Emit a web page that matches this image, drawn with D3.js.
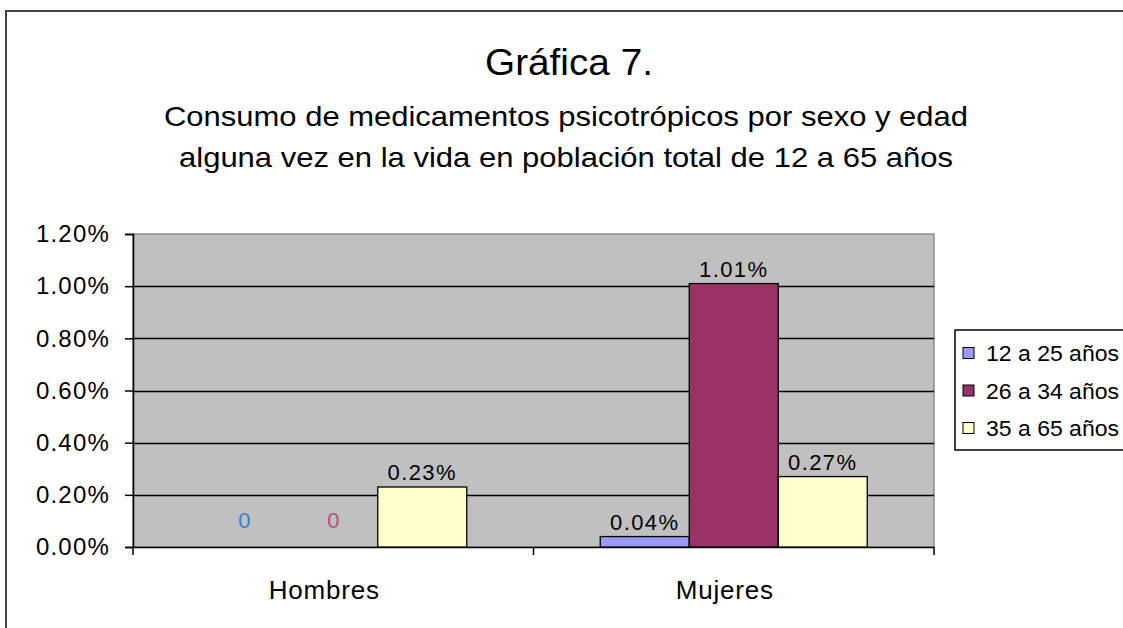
<!DOCTYPE html>
<html><head><meta charset="utf-8">
<script src="https://cdn.jsdelivr.net/npm/d3@7"></script>
<style>body{margin:0;background:#fff;}svg{display:block;font-family:"Liberation Sans",Arial,sans-serif;}</style>
</head><body>
<svg id="c" width="1123" height="628"></svg>
<script>
const categories = ["Hombres", "Mujeres"];
const series = ["12 a 25 años", "26 a 34 años", "35 a 65 años"];
const values = {
  "12 a 25 años": [0, 0.04],
  "26 a 34 años": [0, 1.01],
  "35 a 65 años": [0.23, 0.27]
};
const colors = ["#9999FF", "#993366", "#FFFFCC"];
const zeroLabelColors = ["#3A7BD5", "#B0507A"];
const yTicks = [0, 0.2, 0.4, 0.6, 0.8, 1.0, 1.2];
const titleText = "Gráfica 7.";
const subtitleLines = ["Consumo de medicamentos psicotrópicos por sexo y edad", "alguna vez en la vida en población total de 12 a 65 años"];
const subtitleWidths = [804, 774];

const svg = d3.select("#c");
// chart border
svg.append("rect").attr("x", 6).attr("y", 11).attr("width", 1140).attr("height", 640)
  .attr("fill", "#fff").attr("stroke", "#444").attr("stroke-width", 2);

const L = 133, R = 934, T = 234, B = 547;
const y = d3.scaleLinear().domain([0, 1.2]).range([B, T]);
const x0 = d3.scaleBand().domain(categories).range([L, R]);
const x1 = d3.scaleBand().domain(series).range([0, x0.bandwidth()]).paddingInner(0).paddingOuter(0.75);

// plot area
svg.append("rect").attr("x", L).attr("y", T).attr("width", R - L).attr("height", B - T)
  .attr("fill", "#C0C0C0").attr("stroke", "#8c8c8c").attr("stroke-width", 1.5);
// gridlines
svg.append("g").selectAll("line").data(yTicks.filter(t => t > 0 && t < 1.2)).join("line")
  .attr("x1", L).attr("x2", R).attr("y1", d => Math.round(y(d)) + 0.5).attr("y2", d => Math.round(y(d)) + 0.5)
  .attr("stroke", "#000").attr("stroke-width", 1.3);

// y axis
const yAxis = d3.axisLeft(y).tickValues(yTicks).tickFormat(d => d.toFixed(2) + "%").tickSize(8).tickPadding(15);
const gy = svg.append("g").attr("transform", `translate(${L},0)`).call(yAxis);
gy.select(".domain").attr("stroke", "#000").attr("stroke-width", 1.5);
gy.selectAll(".tick line").attr("stroke", "#000").attr("stroke-width", 1.5);
gy.selectAll(".tick text").attr("font-size", 24).attr("letter-spacing", 1.2).attr("fill", "#000")
  .attr("font-family", "Liberation Sans, Arial, sans-serif");

// x axis
const xAxis = d3.axisBottom(x0).tickSize(0).tickPadding(0);
const gx = svg.append("g").attr("transform", `translate(0,${B})`).call(xAxis);
gx.select(".domain").attr("stroke", "#000").attr("stroke-width", 1.5);
gx.selectAll(".tick text").attr("font-size", 26).attr("letter-spacing", 0.8).attr("fill", "#000")
  .attr("font-family", "Liberation Sans, Arial, sans-serif")
  .attr("dx", -9).attr("dy", 52);
// category boundary ticks
const bounds = categories.map(c => x0(c)).concat([x0(categories[categories.length - 1]) + x0.bandwidth()]);
svg.append("g").selectAll("line").data(bounds).join("line")
  .attr("x1", d => d).attr("x2", d => d).attr("y1", B).attr("y2", B + 8)
  .attr("stroke", "#000").attr("stroke-width", 1.5);

// bars
const flat = [];
series.forEach((s, si) => categories.forEach((c, ci) => flat.push({s, si, c, v: values[s][ci]})));
const gb = svg.append("g");
gb.selectAll("rect").data(flat.filter(d => d.v > 0)).join("rect")
  .attr("x", d => x0(d.c) + x1(d.s)).attr("width", x1.bandwidth())
  .attr("y", d => y(d.v)).attr("height", d => y(0) - y(d.v))
  .attr("fill", d => colors[d.si]).attr("stroke", "#000").attr("stroke-width", 1.3);

// value labels
gb.selectAll("text").data(flat).join("text")
  .attr("x", d => x0(d.c) + x1(d.s) + x1.bandwidth() / 2)
  .attr("y", d => d.v > 0 ? y(d.v) - 7 : y(0) - 19)
  .attr("text-anchor", "middle").attr("font-size", 22).attr("letter-spacing", d => d.v > 0 ? 1.4 : 0)
  .attr("fill", d => d.v > 0 ? "#000" : zeroLabelColors[d.si] || "#000")
  .text(d => d.v > 0 ? d.v.toFixed(2) + "%" : "0");

// titles
svg.append("text").attr("x", 569).attr("y", 75).attr("text-anchor", "middle")
  .attr("font-size", 37).attr("textLength", 168).attr("lengthAdjust", "spacingAndGlyphs")
  .attr("fill", "#000").text(titleText);
svg.selectAll(".sub").data(subtitleLines).join("text").attr("class", "sub")
  .attr("x", 566).attr("y", (d, i) => 126 + i * 41).attr("text-anchor", "middle")
  .attr("font-size", 28).attr("textLength", (d, i) => subtitleWidths[i]).attr("lengthAdjust", "spacingAndGlyphs")
  .attr("fill", "#000").text(d => d);

// legend
const lg = svg.append("g");
lg.append("rect").attr("x", 955).attr("y", 330).attr("width", 200).attr("height", 120)
  .attr("fill", "#fff").attr("stroke", "#000").attr("stroke-width", 1.5);
const items = lg.selectAll("g.item").data(series).join("g").attr("class", "item")
  .attr("transform", (d, i) => `translate(963,${353 + i * 37.5})`);
items.append("rect").attr("x", 0).attr("y", -5.5).attr("width", 11).attr("height", 11)
  .attr("fill", (d, i) => colors[i]).attr("stroke", "#000").attr("stroke-width", 1);
items.append("text").attr("x", 23).attr("y", 8).attr("font-size", 22).attr("textLength", 133)
  .attr("lengthAdjust", "spacingAndGlyphs").attr("fill", "#000").text(d => d);
</script>
</body></html>
